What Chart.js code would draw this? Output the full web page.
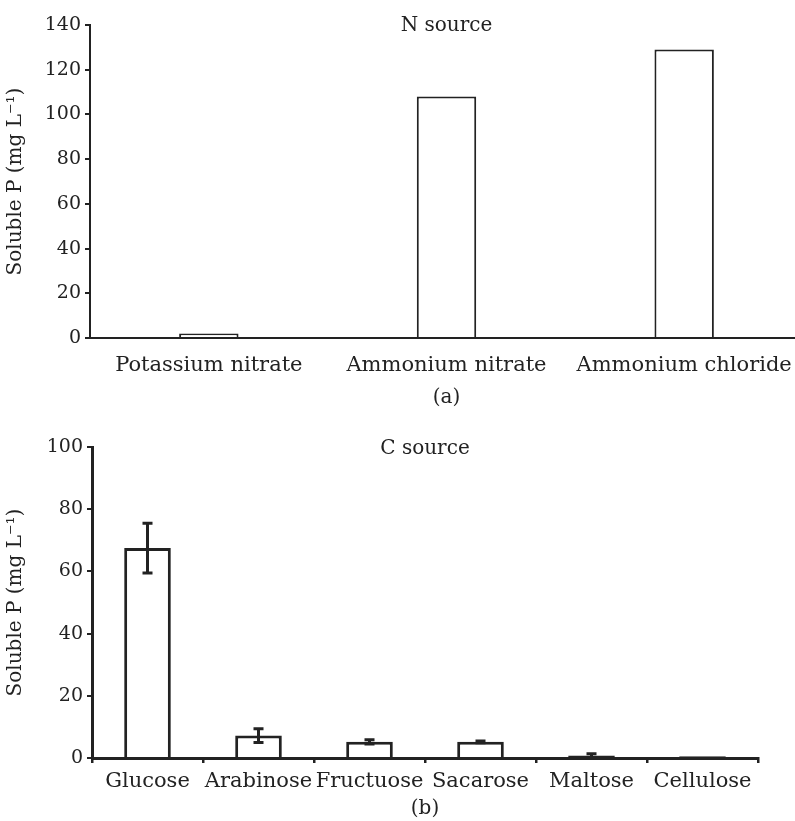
<!DOCTYPE html>
<html>
<head>
<meta charset="utf-8">
<script src="https://cdn.jsdelivr.net/npm/chart.js@4/dist/chart.umd.min.js"></script>
<style>
  html, body { margin: 0; padding: 0; background: #fff; overflow: hidden; }
  canvas { display: block; }
</style>
</head>
<body>
<canvas id="chartN" width="803" height="410"></canvas>
<canvas id="chartC" width="795" height="411"></canvas>
<script>
const nCategories = ['Potassium nitrate', 'Ammonium nitrate', 'Ammonium chloride']
const nValues = [2, 108, 129]

const cCategories = ['Glucose', 'Arabinose', 'Fructuose', 'Sacarose', 'Maltose', 'Cellulose']
const cValues = [67.5, 7.2, 5.2, 5.2, 0.8, 0.6]
const cErrors = [8, 2.2, 0.7, 0.3, 0.6, 0]

const yTitle = 'Soluble P (mg L\u207B\u00B9)'
const ink = '#222'
const family = '"DejaVu Serif", "Liberation Serif", serif'
const tickFont = { family: family, size: 19 }
const labelFont = { family: family, size: 21 }
const titleFont = { family: family, size: 20 }

// caption drawn inside the plot area, centred at its top
const innerTitle = {
  id: 'innerTitle',
  afterDraw (chart, args, opts) {
    const { ctx, chartArea } = chart
    ctx.save()
    ctx.fillStyle = ink
    ctx.font = '20px ' + family
    ctx.textAlign = 'center'
    ctx.textBaseline = 'middle'
    ctx.fillText(opts.text, (chartArea.left + chartArea.right) / 2 + (opts.dx || 0), chartArea.top + (opts.dy || 0))
    ctx.restore()
  }
}

const errorBars = {
  id: 'errorBars',
  afterDatasetsDraw (chart, args, opts) {
    if (!opts.errors) return
    const { ctx } = chart
    const yScale = chart.scales.y
    const meta = chart.getDatasetMeta(0)
    const values = chart.data.datasets[0].data
    ctx.save()
    ctx.strokeStyle = ink
    ctx.lineWidth = 3
    opts.errors.forEach((e, i) => {
      if (!e) return
      const x = meta.data[i].x
      const top = yScale.getPixelForValue(values[i] + e)
      const bot = yScale.getPixelForValue(Math.max(values[i] - e, 0))
      ctx.beginPath()
      ctx.moveTo(x, top)
      ctx.lineTo(x, bot)
      ctx.moveTo(x - 5, top)
      ctx.lineTo(x + 5, top)
      ctx.moveTo(x - 5, bot)
      ctx.lineTo(x + 5, bot)
      ctx.stroke()
    })
    ctx.restore()
  }
}

function makeChart (id, labels, values, opts) {
  return new Chart(document.getElementById(id), {
    type: 'bar',
    data: {
      labels: labels,
      datasets: [{
        data: values,
        backgroundColor: '#fff',
        borderColor: ink,
        borderWidth: opts.barBorder,
        // tiny bars show as solid dark strips on the axis
        borderSkipped: ctx => (values[ctx.dataIndex] < 1 ? false : 'start'),
        categoryPercentage: 1,
        barPercentage: opts.barPct
      }]
    },
    plugins: [innerTitle, errorBars],
    options: {
      responsive: false,
      animation: false,
      layout: { padding: opts.padding },
      plugins: {
        legend: { display: false },
        tooltip: { enabled: false },
        innerTitle: { text: opts.title, dx: opts.titleDx || 0, dy: opts.titleDy || 0 },
        errorBars: { errors: opts.errors }
      },
      scales: {
        x: {
          grid: {
            display: opts.xTicks,
            drawOnChartArea: false,
            drawTicks: true,
            tickLength: 5,
            color: ink,
            lineWidth: 2.5
          },
          border: { display: true, color: ink, width: opts.axisWidth },
          ticks: { color: ink, font: labelFont, padding: opts.xTickPad, maxRotation: 0, autoSkip: false },
          title: { display: true, text: opts.caption, color: ink, font: titleFont, padding: { top: opts.captionPad, bottom: 0 } },
          afterFit (scale) { scale.height = opts.xHeight }
        },
        y: {
          min: 0,
          max: opts.yMax,
          ticks: { stepSize: 20, color: ink, font: tickFont, padding: 4 },
          grid: {
            drawOnChartArea: false,
            drawTicks: true,
            tickLength: 5,
            color: ink,
            lineWidth: 2
          },
          border: { display: true, color: ink, width: opts.axisWidth },
          title: { display: true, text: yTitle, color: ink, font: titleFont, padding: { bottom: 2 } },
          afterFit (scale) { scale.width = opts.yWidth }
        }
      }
    }
  })
}

makeChart('chartN', nCategories, nValues, {
  title: 'N source',
  caption: '(a)',
  yMax: 140,
  barPct: 0.25,
  barBorder: 2,
  axisWidth: 2,
  xTicks: false,
  xTickPad: 10,
  captionPad: 6,
  xHeight: 72,
  yWidth: 90,
  padding: { top: 25, right: 0, bottom: 0, left: 0 },
  titleDy: 1
})

makeChart('chartC', cCategories, cValues, {
  title: 'C source',
  caption: '(b)',
  yMax: 100,
  barPct: 0.42,
  barBorder: 3,
  axisWidth: 3,
  xTicks: true,
  xTickPad: 6,
  captionPad: 0,
  xHeight: 63,
  yWidth: 92,
  padding: { top: 37, right: 37, bottom: 0, left: 0 },
  errors: cErrors,
  titleDy: 2
})
</script>
</body>
</html>
